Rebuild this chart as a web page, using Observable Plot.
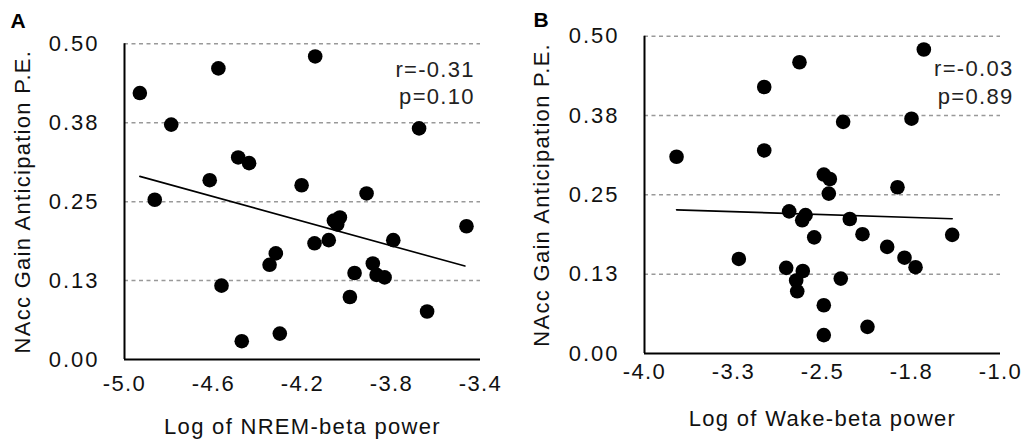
<!DOCTYPE html>
<html><head><meta charset="utf-8">
<script src="https://cdn.jsdelivr.net/npm/d3@7"></script>
<script src="https://cdn.jsdelivr.net/npm/@observablehq/plot@0.6"></script>
<style>
body{margin:0;background:#fff;}
#wrap{display:flex;width:1022px;height:442px;overflow:hidden;}
#wrap svg{display:block;}
#wrap svg text{letter-spacing:1.3px;}
#wrap svg g[aria-label="y-axis tick label"] text{letter-spacing:2px;}
#wrap svg g[aria-label="x-axis tick label"] text{letter-spacing:1.4px;}
#wrap svg g.letter text{letter-spacing:0;}
</style></head><body><div id="wrap"></div>
<script>
// Panel A: NREM-beta power vs NAcc gain anticipation P.E.
const nremX = [-4.931,-4.864,-4.790,-4.578,-4.617,-4.564,-4.489,-4.440,-4.473,-4.348,-4.320,-4.302,-4.143,-4.204,-4.146,-4.082,-4.059,-4.044,-4.032,-3.987,-3.966,-3.912,-3.884,-3.867,-3.831,-3.792,-3.676,-3.640,-3.463];
const nremY = [0.422,0.253,0.372,0.461,0.284,0.117,0.320,0.311,0.029,0.150,0.168,0.041,0.480,0.276,0.184,0.189,0.220,0.214,0.225,0.099,0.137,0.263,0.152,0.134,0.130,0.189,0.366,0.076,0.211];
// fitted line end points
const nremFitX = [-4.931, -3.470];
const nremFitY = [0.290, 0.148];
// Panel B: Wake-beta power vs NAcc gain anticipation P.E.
const wakeX = [-3.730,-3.205,-2.991,-2.991,-2.694,-2.781,-2.806,-2.643,-2.671,-2.666,-2.722,-2.713,-2.570,-2.489,-2.438,-2.447,-2.489,-2.489,-2.326,-2.270,-2.346,-2.163,-2.121,-1.955,-1.868,-1.809,-1.716,-1.750,-1.646,-1.407];
const wakeY = [0.310,0.149,0.420,0.320,0.459,0.224,0.135,0.218,0.210,0.130,0.115,0.098,0.183,0.282,0.275,0.252,0.076,0.029,0.365,0.212,0.118,0.188,0.042,0.168,0.262,0.151,0.136,0.370,0.479,0.187];
const wakeFitX = [-3.730, -1.407];
const wakeFitY = [0.2264, 0.2123];

const yTicks = [0, 0.125, 0.25, 0.375, 0.5];
const yTickLabels = ["0.00","0.13","0.25","0.38","0.50"];
const gridY = [0.125, 0.25, 0.375, 0.5];
const nremTicks = [-5.0,-4.6,-4.2,-3.8,-3.4];
const nremTickLabels = ["-5.0","-4.6","-4.2","-3.8","-3.4"];
const wakeTicks = [-4.0,-3.25,-2.5,-1.75,-1.0];
const wakeTickLabels = ["-4.0","-3.3","-2.5","-1.8","-1.0"];
const yLabel = "NAcc Gain Anticipation P.E.";
const xLabels = ["Log of NREM-beta power", "Log of Wake-beta power"];
const panelLetters = ["A", "B"];
const statsA = ["r=-0.31", "p=0.10"];
const statsB = ["r=-0.03", "p=0.89"];

function panel(o) {
  const data = o.xs.map((x, i) => ({x, y: o.ys[i]}));
  const fit = o.fx.map((x, i) => ({x, y: o.fy[i]}));
  return Plot.plot({
    width: o.width, height: 442,
    marginLeft: o.ml, marginRight: o.mr, marginTop: o.mt, marginBottom: o.mb,
    style: {fontFamily: "'Liberation Sans', Arial, sans-serif", fontSize: "22px", color: "#111", background: "#fff", overflow: "visible"},
    x: {domain: o.xDomain},
    y: {domain: [0, 0.5]},
    marks: [
      Plot.ruleY(gridY, {stroke: "#999", strokeWidth: 1.5, strokeDasharray: "4,3.5"}),
      Plot.axisY({ticks: yTicks, tickSize: 0, tickPadding: 25, label: null, fontSize: 22,
        tickFormat: d => yTickLabels[yTicks.indexOf(d)], fill: "#111"}),
      Plot.axisX({ticks: o.xTicks, tickSize: 0, tickPadding: o.xPad, label: null, fontSize: 22,
        tickFormat: d => o.xTickLabels[o.xTicks.indexOf(d)], fill: "#111"}),
      Plot.ruleY([0], {stroke: "#000", strokeWidth: 2}),
      Plot.ruleX([o.xDomain[0]], {stroke: "#000", strokeWidth: 2}),
      Plot.dot(data, {x: "x", y: "y", r: 7.3, fill: "#000", stroke: "none"}),
      Plot.line(fit, {x: "x", y: "y", stroke: "#000", strokeWidth: 1.6}),
      Plot.text([o.stats[0]], {frameAnchor: "top-right", textAnchor: "end", lineAnchor: "middle", dx: o.sdx, dy: o.sdy1, fill: "#222", fontSize: 22}),
      Plot.text([o.stats[1]], {frameAnchor: "top-right", textAnchor: "end", lineAnchor: "middle", dx: o.sdx, dy: o.sdy2, fill: "#222", fontSize: 22}),
      Plot.text([yLabel], {frameAnchor: "left", textAnchor: "middle", lineAnchor: "middle", rotate: -90, dx: o.ylDx, fill: "#111", fontSize: 22}),
      Plot.text([o.xLabel], {frameAnchor: "bottom", textAnchor: "middle", lineAnchor: "middle", dy: o.xlDy, fill: "#111", fontSize: 22}),
      Plot.text([o.letter], {frameAnchor: "top-left", textAnchor: "start", lineAnchor: "middle", dx: o.lDx, dy: o.lDy, fontWeight: "bold", fill: "#000", fontSize: 21, className: "letter"})
    ]
  });
}

const wrap = document.getElementById("wrap");
wrap.appendChild(panel({
  xs: nremX, ys: nremY, fx: nremFitX, fy: nremFitY, width: 520, ml: 124, mr: 40, mt: 43.3, mb: 83,
  xDomain: [-5.0, -3.4], xTicks: nremTicks, xTickLabels: nremTickLabels, xPad: 16,
  stats: statsA, sdx: -5.7, sdy1: 25.7, sdy2: 53.4,
  ylDx: -102, xLabel: xLabels[0], xlDy: 67.5, letter: panelLetters[0], lDx: -114, lDy: -23
}));
wrap.appendChild(panel({
  xs: wakeX, ys: wakeY, fx: wakeFitX, fy: wakeFitY, width: 502, ml: 124, mr: 22, mt: 35.7, mb: 89,
  xDomain: [-4.0, -1.0], xTicks: wakeTicks, xTickLabels: wakeTickLabels, xPad: 10,
  stats: statsB, sdx: 13, sdy1: 33, sdy2: 61,
  ylDx: -102.5, xLabel: xLabels[1], xlDy: 65, letter: panelLetters[1], lDx: -111, lDy: -16
}));
</script>
</body></html>
